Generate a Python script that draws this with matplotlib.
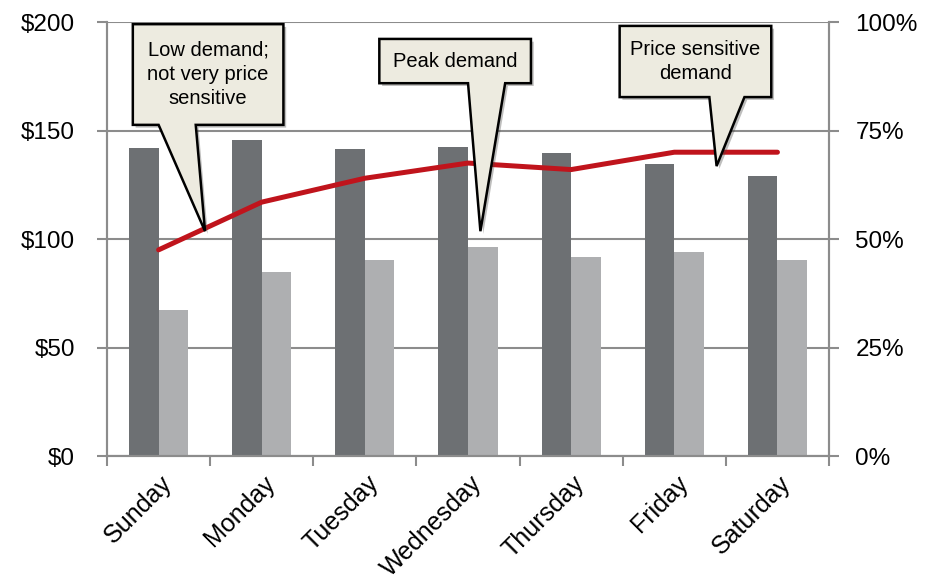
import numpy as np
import matplotlib.pyplot as plt
import matplotlib.transforms as mtransforms
from matplotlib.patches import Polygon
import matplotlib.patheffects as pe

plt.rcParams['font.family'] = ['Liberation Sans', 'DejaVu Sans']

days = ['Sunday', 'Monday', 'Tuesday', 'Wednesday', 'Thursday', 'Friday', 'Saturday']
price_dark = [142, 145.5, 141.5, 142.5, 139.5, 134.5, 129]
price_light = [67.5, 85, 90.5, 96.5, 91.5, 94, 90.5]
occupancy = [47.5, 58.5, 64, 67.5, 66, 70, 70]

# callouts: text, box (x0, x1, ybottom, ytop), pointer base (xl, xr), tip (x, y)
callouts = [
    ("Low demand;\nnot very price\nsensitive", (-0.25, 1.21, 76.3, 99.5), (0.0, 0.36), (0.45, 51.8)),
    ("Peak demand", (2.14, 3.61, 85.9, 96.1), (3.0, 3.36), (3.12, 51.8)),
    ("Price sensitive\ndemand", (4.47, 5.94, 82.7, 99.1), (5.34, 5.68), (5.41, 66.8)),
]

grid_c = '#8c8c8c'
fig = plt.figure(figsize=(9.34, 5.79), dpi=100)
ax = fig.add_axes([0.1146, 0.2124, 0.773, 0.7496])
ax2 = ax.twinx()

x = np.arange(len(days))
w = 0.287
ax.bar(x - w/2, price_dark, w, color='#6d7073', zorder=2)
ax.bar(x + w/2, price_light, w, color='#aeafb1', zorder=2)

ax.set_xlim(-0.5, 6.5)
ax.set_ylim(0, 200)
ax.set_yticks([0, 50, 100, 150, 200])
ax.set_yticklabels(['$0', '$50', '$100', '$150', '$200'])
ax.grid(axis='y', color=grid_c, lw=1.5, zorder=0)
ax.set_axisbelow(True)

ax.set_xticks(x)
ax.set_xticklabels(days, rotation=45, ha='right', va='center', rotation_mode='anchor')
ax.set_xticks(np.arange(-0.5, 7.0, 1.0), minor=True)
ax.tick_params(axis='x', which='major', length=0, pad=17, labelsize=18)
ax.tick_params(axis='x', which='minor', length=7, width=1.5, color=grid_c, direction='out')
ax.tick_params(axis='y', length=7, width=1.5, color=grid_c, pad=16, labelsize=17.5)
shift = mtransforms.ScaledTranslation(10/100, 0, fig.dpi_scale_trans)
for lab in ax.get_xticklabels():
    lab.set_transform(lab.get_transform() + shift)

ax2.plot(x, occupancy, color='#c0141c', lw=3.6, solid_capstyle='round', zorder=3)
ax2.set_ylim(0, 100)
ax2.set_yticks([0, 25, 50, 75, 100])
ax2.set_yticklabels(['0%', '25%', '50%', '75%', '100%'])
ax2.tick_params(axis='y', length=7, width=1.5, color=grid_c, pad=12, labelsize=17.5)

for a in (ax, ax2):
    for s in ('left', 'right', 'bottom'):
        a.spines[s].set_color(grid_c)
        a.spines[s].set_linewidth(1.5)
    a.spines['top'].set_visible(False)

for text, (x0, x1, yb, yt), (bl, br), (tx, ty) in callouts:
    verts = [(x0, yt), (x1, yt), (x1, yb), (br, yb), (tx, ty), (bl, yb), (x0, yb)]
    poly = Polygon(verts, closed=True, facecolor='#edebe0', edgecolor='black', lw=1.8,
                   zorder=5, clip_on=False,
                   path_effects=[pe.SimplePatchShadow(offset=(2, -2), alpha=0.35), pe.Normal()])
    ax2.add_patch(poly)
    ax2.text((x0 + x1) / 2, (yb + yt) / 2, text, ha='center', va='center', fontsize=14.5,
             linespacing=1.35, zorder=6)

fig.savefig('out.png', dpi=100)
